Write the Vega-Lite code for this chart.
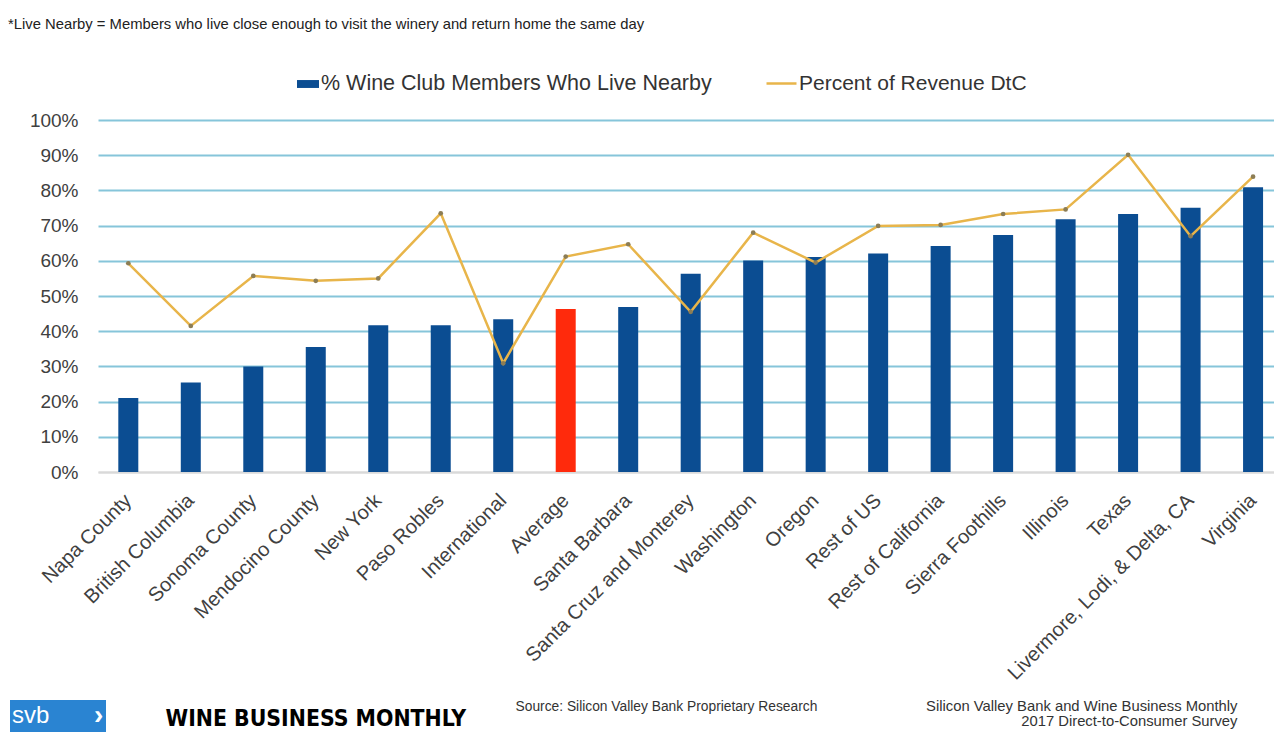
{
  "$schema": "https://vega.github.io/schema/vega-lite/v6.json",
  "autosize": {"type": "none"},
  "padding": {"left": 98, "top": 120, "right": 0, "bottom": 261},
  "width": 1176,
  "height": 352,
  "background": "#ffffff",
  "config": {
    "font": "Liberation Sans",
    "view": {"stroke": null},
    "legend": {"padding": 0}
  },
  "title": {
    "text": "*Live Nearby = Members who live close enough to visit the winery and return home the same day",
    "anchor": "start",
    "frame": "group",
    "dx": -90,
    "offset": 35,
    "fontSize": 14.8,
    "fontWeight": "normal",
    "color": "#222222"
  },
  "data": {
    "values": [
      {"region": "Napa County", "nearby": 0.21, "revenue": 0.593},
      {"region": "British Columbia", "nearby": 0.254, "revenue": 0.415},
      {"region": "Sonoma County", "nearby": 0.30, "revenue": 0.557},
      {"region": "Mendocino County", "nearby": 0.355, "revenue": 0.543},
      {"region": "New York", "nearby": 0.417, "revenue": 0.55},
      {"region": "Paso Robles", "nearby": 0.417, "revenue": 0.735},
      {"region": "International", "nearby": 0.434, "revenue": 0.309},
      {"region": "Average", "nearby": 0.463, "revenue": 0.612},
      {"region": "Santa Barbara", "nearby": 0.469, "revenue": 0.647},
      {"region": "Santa Cruz and Monterey", "nearby": 0.563, "revenue": 0.455},
      {"region": "Washington", "nearby": 0.601, "revenue": 0.68},
      {"region": "Oregon", "nearby": 0.611, "revenue": 0.595},
      {"region": "Rest of US", "nearby": 0.621, "revenue": 0.699},
      {"region": "Rest of California", "nearby": 0.642, "revenue": 0.702},
      {"region": "Sierra Foothills", "nearby": 0.673, "revenue": 0.733},
      {"region": "Illinois", "nearby": 0.718, "revenue": 0.746},
      {"region": "Texas", "nearby": 0.733, "revenue": 0.901},
      {"region": "Livermore, Lodi, & Delta, CA", "nearby": 0.751, "revenue": 0.67},
      {"region": "Virginia", "nearby": 0.809, "revenue": 0.839}
    ]
  },
  "encoding": {
    "x": {
      "field": "region",
      "type": "nominal",
      "sort": null,
      "scale": {"paddingInner": 0.68, "paddingOuter": 0.25, "align": 0.65},
      "axis": {
        "title": "Source: Silicon Valley Bank Proprietary Research",
        "titleX": 417,
        "titleY": 238,
        "titleAlign": "left",
        "titleBaseline": "alphabetic",
        "titleFontSize": 13.8,
        "titleFontWeight": "normal",
        "titleColor": "#333333",
        "labelAngle": -45,
        "labelFontSize": 20,
        "labelColor": "#404040",
        "labelPadding": 18,
        "labelOffset": -7,
        "labelLimit": 400,
        "ticks": false,
        "domain": true,
        "domainColor": "#d9d9d9",
        "domainWidth": 2,
        "grid": false
      }
    }
  },
  "layer": [
    {
      "mark": {"type": "bar"},
      "encoding": {
        "y": {
          "field": "nearby",
          "type": "quantitative",
          "scale": {"domain": [0, 1]},
          "axis": {
            "values": [0, 0.1, 0.2, 0.3, 0.4, 0.5, 0.6, 0.7, 0.8, 0.9, 1],
            "format": ".0%",
            "grid": true,
            "gridColor": {"condition": {"test": "datum.value === 0", "value": "#d9d9d9"}, "value": "#86c5da"},
            "gridWidth": 2,
            "domain": false,
            "ticks": false,
            "labelFontSize": 19,
            "labelColor": "#404040",
            "labelPadding": 20,
            "title": "WINE BUSINESS MONTHLY",
            "titleAngle": 0,
            "titleAlign": "left",
            "titleBaseline": "alphabetic",
            "titleX": 67,
            "titleY": 605,
            "titleFont": "DejaVu Sans Condensed",
            "titleFontSize": 22.8,
            "titleFontWeight": "bold",
            "titleColor": "#000000"
          }
        },
        "fill": {
          "condition": {"test": "datum.region === 'Average'", "value": "#ff2a0c"},
          "datum": "% Wine Club Members Who Live Nearby",
          "scale": {"range": ["#0b4d92"]},
          "legend": {
            "title": null,
            "orient": "none",
            "legendX": 199,
            "legendY": -47,
            "direction": "horizontal",
            "symbolType": "M-1,-0.36H1V0.36H-1Z",
            "symbolSize": 484,
            "symbolStrokeWidth": 0,
            "labelFontSize": 21.5,
            "labelColor": "#333333",
            "labelOffset": 2,
            "labelLimit": 600
          }
        }
      }
    },
    {
      "mark": {"type": "line", "strokeWidth": 2.5},
      "encoding": {
        "y": {
          "field": "revenue",
          "type": "quantitative",
          "scale": {"domain": [0, 1]},
          "axis": {
            "orient": "right",
            "labels": false,
            "ticks": false,
            "domain": false,
            "grid": false,
            "title": ["Silicon Valley Bank and Wine Business Monthly", "2017 Direct-to-Consumer Survey"],
            "titleAngle": 0,
            "titleAlign": "right",
            "titleBaseline": "alphabetic",
            "titleX": -37,
            "titleY": 590,
            "titleLineHeight": 15,
            "titleFontSize": 14.8,
            "titleFontWeight": "normal",
            "titleColor": "#333333"
          }
        },
        "stroke": {
          "datum": "Percent of Revenue DtC",
          "scale": {"range": ["#e8b54a"]},
          "legend": {
            "title": null,
            "orient": "none",
            "legendX": 667,
            "legendY": -53,
            "direction": "horizontal",
            "symbolType": "stroke",
            "symbolSize": 900,
            "symbolStrokeWidth": 2.5,
            "labelFontSize": 21,
            "labelColor": "#333333",
            "labelOffset": 1,
            "labelLimit": 600
          }
        }
      }
    },
    {
      "mark": {"type": "point", "filled": true, "size": 22, "color": "#8c7d55", "opacity": 1},
      "encoding": {
        "y": {
          "field": "revenue",
          "type": "quantitative",
          "scale": {"domain": [0, 1]},
          "axis": null
        },
        "shape": {
          "datum": "›",
          "scale": {"range": ["circle"]},
          "legend": {
            "title": "svb",
            "orient": "none",
            "legendX": -88,
            "legendY": 580,
            "direction": "horizontal",
            "titleOrient": "left",
            "titleColor": "#ffffff",
            "titleFontSize": 24,
            "titleFontWeight": "normal",
            "titlePadding": 16,
            "fillColor": "#2a84d2",
            "padding": 2,
            "symbolSize": 0,
            "symbolOpacity": 0,
            "labelOffset": 0,
            "labelFontSize": 28,
            "labelFontWeight": "bold",
            "labelColor": "#ffffff"
          }
        }
      }
    }
  ],
  "resolve": {"scale": {"y": "independent"}, "axis": {"y": "independent"}}
}
